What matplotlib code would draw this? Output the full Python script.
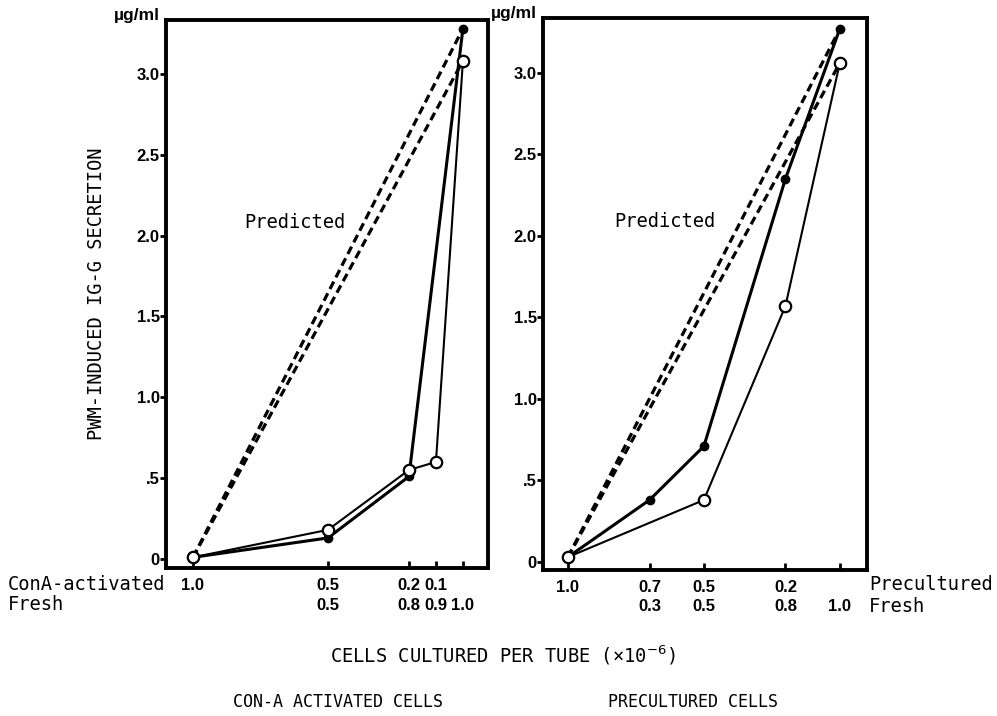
import matplotlib
matplotlib.use('Agg')
import matplotlib.pyplot as plt

# x position = fraction of fresh cells in the tube (activated/precultured = 1 - fresh)
conA_filled_x = [0.0, 0.5, 0.8, 1.0]
conA_filled = [0.01, 0.13, 0.51, 3.28]
conA_open_x = [0.0, 0.5, 0.8, 0.9, 1.0]
conA_open = [0.01, 0.18, 0.55, 0.60, 3.08]

pre_filled_x = [0.0, 0.3, 0.5, 0.8, 1.0]
pre_filled = [0.03, 0.38, 0.71, 2.35, 3.27]
pre_open_x = [0.0, 0.5, 0.8, 1.0]
pre_open = [0.03, 0.38, 1.57, 3.06]

conA_ticks = [0.0, 0.5, 0.8, 0.9, 1.0]
conA_top = ['1.0', '0.5', '0.2', '0.1', ' ']
conA_bot = [' ', '0.5', '0.8', '0.9', '1.0']
pre_ticks = [0.0, 0.3, 0.5, 0.8, 1.0]
pre_top = ['1.0', '0.7', '0.5', '0.2', ' ']
pre_bot = [' ', '0.3', '0.5', '0.8', '1.0']

yticks = [0, 0.5, 1.0, 1.5, 2.0, 2.5, 3.0]
ylabels = ['0', '.5', '1.0', '1.5', '2.0', '2.5', '3.0']

mono = 'DejaVu Sans Mono'
bold = dict(family='Liberation Sans', weight='bold', size=12)

fig = plt.figure(figsize=(9.97, 7.16), dpi=100)
ax1 = fig.add_axes([0.1665, 0.2067, 0.323, 0.7654])
ax2 = fig.add_axes([0.5446, 0.2040, 0.325, 0.7710])


def panel(ax, fx, fy, ox, oy, ticks, top, bot, xlim, ylim, pred_xy):
    # predicted (additive) lines: straight from the all-activated point to the all-fresh point
    for xs, ys in ((fx, fy), (ox, oy)):
        ax.plot([xs[0], xs[-1]], [ys[0], ys[-1]], color='black', lw=2.3,
                dashes=(2.6, 1.5), zorder=2)
    ax.plot(fx, fy, color='black', lw=2.2, marker='o', ms=6,
            mfc='black', mec='black', zorder=3)
    ax.plot(ox, oy, color='black', lw=1.5, marker='o', ms=8.2,
            mfc='white', mec='black', mew=1.6, zorder=4)
    ax.set_xlim(*xlim)
    ax.set_ylim(*ylim)
    ax.set_yticks(yticks)
    ax.set_yticklabels(ylabels, fontdict=bold)
    ax.set_xticks(ticks)
    ax.set_xticklabels([t + '\n' + b for t, b in zip(top, bot)],
                       fontdict=bold, linespacing=1.4)
    ax.tick_params(axis='y', direction='out', length=4, width=2, pad=0.5)
    ax.tick_params(axis='x', direction='in', length=5, width=2, pad=7)
    for s in ax.spines.values():
        s.set_linewidth(2.8)
    ax.text(pred_xy[0], pred_xy[1], 'Predicted', family=mono, fontsize=13.5,
            va='center', ha='left')
    ax.text(-0.018, 0.995, 'µg/ml', transform=ax.transAxes, ha='right',
            va='bottom', family='Liberation Sans', weight='bold', fontsize=12.5)


panel(ax1, conA_filled_x, conA_filled, conA_open_x, conA_open,
      conA_ticks, conA_top, conA_bot, (-0.1, 1.093), (-0.056, 3.333), (0.19, 2.08))
panel(ax2, pre_filled_x, pre_filled, pre_open_x, pre_open,
      pre_ticks, pre_top, pre_bot, (-0.092, 1.10), (-0.049, 3.337), (0.17, 2.09))

ax1.set_ylabel('PWM-INDUCED IG-G SECRETION', family=mono, fontsize=13.5, labelpad=22)

fig.text(8 / 997, 1 - 584 / 716, 'ConA-activated', family=mono, fontsize=13.5,
         va='center', ha='left')
fig.text(8 / 997, 1 - 605 / 716, 'Fresh', family=mono, fontsize=13.5,
         va='center', ha='left')
fig.text(869 / 997, 1 - 585 / 716, 'Precultured', family=mono, fontsize=13.5,
         va='center', ha='left')
fig.text(869 / 997, 1 - 606 / 716, 'Fresh', family=mono, fontsize=13.5,
         va='center', ha='left')

fig.text(503 / 997, 1 - 655 / 716, 'CELLS CULTURED PER TUBE (\u00d710$^{-6}$)',
         family=mono, fontsize=13.5, ha='center', va='center')
fig.text(338 / 997, 1 - 702 / 716, 'CON-A ACTIVATED CELLS', family=mono,
         fontsize=12, ha='center', va='center')
fig.text(693 / 997, 1 - 702 / 716, 'PRECULTURED CELLS', family=mono,
         fontsize=12, ha='center', va='center')

fig.savefig('out.png', dpi=100)
